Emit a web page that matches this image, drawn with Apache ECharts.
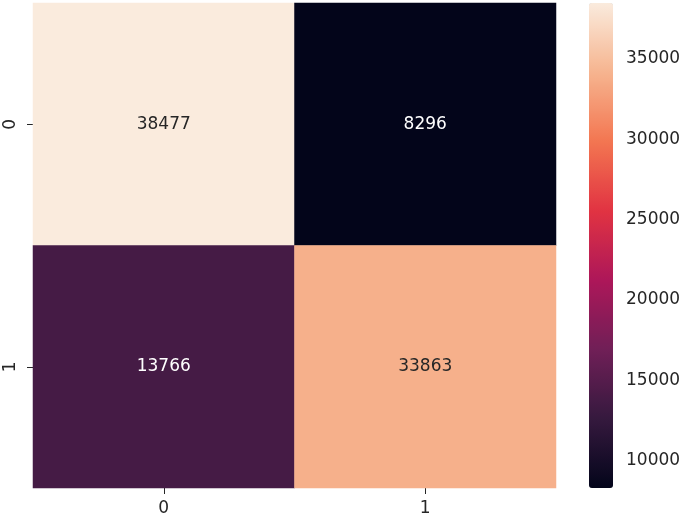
<!DOCTYPE html>
<html>
<head>
<meta charset="utf-8">
<title>confusion matrix</title>
<script src="https://cdn.jsdelivr.net/npm/echarts@6/dist/echarts.min.js"></script>
<style>
  html, body { margin: 0; padding: 0; background: #fff; }
  #main { width: 685px; height: 518px; }
</style>
</head>
<body>
<div id="main"></div>
<script>
// 坐标类别
const xCats = ["0", "1"];
const yCats = ["0", "1"];
// 每行一个真实类别
const row0 = [38477, 8296];
const row1 = [13766, 33863];
// 色条刻度
const barTicks = [10000, 15000, 20000, 25000, 30000, 35000];
// rocket 色表
const rocket = ["#03051a", "#35193e", "#701f57", "#ad1759", "#e13342", "#f37651", "#f6b48f", "#faebdd"];

const rows = [row0, row1];
const all = row0.concat(row1);
const vMin = Math.min(...all);
const vMax = Math.max(...all);
const font = "DejaVu Sans";
const ink = "#262626";

// 组装热力图数据，浅色格子用深色字
const data = [];
rows.forEach((r, yi) => {
  r.forEach((v, xi) => {
    const t = (v - vMin) / (vMax - vMin);
    data.push({
      value: [xi, yi, v],
      label: { color: t > 0.5 ? ink : "#ffffff" }
    });
  });
});

const chart = echarts.init(document.getElementById("main"), null, { renderer: "canvas" });

const tickStyle = { show: true, length: 6, lineStyle: { color: ink, width: 1 } };

chart.setOption({
  animation: false,
  backgroundColor: "#ffffff",
  grid: [
    { left: 33, right: 129, top: 3, bottom: 30 },
    { left: 589, width: 24, top: 3, height: 485 }
  ],
  xAxis: [
    {
      type: "category",
      data: xCats,
      gridIndex: 0,
      axisLine: { show: false },
      axisTick: Object.assign({ alignWithLabel: true }, tickStyle),
      axisLabel: { color: ink, fontFamily: font, fontSize: 17, margin: 12 },
      splitLine: { show: false }
    },
    {
      type: "value",
      gridIndex: 1,
      show: false
    }
  ],
  yAxis: [
    {
      type: "category",
      data: yCats,
      inverse: true,
      gridIndex: 0,
      axisLine: { show: false },
      axisTick: Object.assign({ alignWithLabel: true }, tickStyle),
      axisLabel: { color: ink, fontFamily: font, fontSize: 17, margin: 14, rotate: 90 },
      splitLine: { show: false }
    },
    {
      type: "value",
      gridIndex: 1,
      position: "right",
      min: vMin,
      max: vMax,
      axisLine: { show: false },
      axisTick: Object.assign({ customValues: barTicks }, tickStyle),
      axisLabel: {
        color: ink, fontFamily: font, fontSize: 17, margin: 13,
        customValues: barTicks,
        formatter: (v) => String(v)
      },
      splitLine: { show: false }
    }
  ],
  visualMap: {
    type: "continuous",
    min: vMin,
    max: vMax,
    seriesIndex: 0,
    calculable: false,
    show: true,
    left: 589,
    top: 3,
    padding: 0,
    itemWidth: 24,
    itemHeight: 485,
    text: null,
    showLabel: false,
    inRange: { color: rocket }
  },
  series: [
    {
      type: "heatmap",
      xAxisIndex: 0,
      yAxisIndex: 0,
      data: data,
      label: { show: true, fontFamily: font, fontSize: 17 },
      itemStyle: { borderWidth: 0 },
      emphasis: { disabled: true }
    }
  ]
});
</script>
</body>
</html>
